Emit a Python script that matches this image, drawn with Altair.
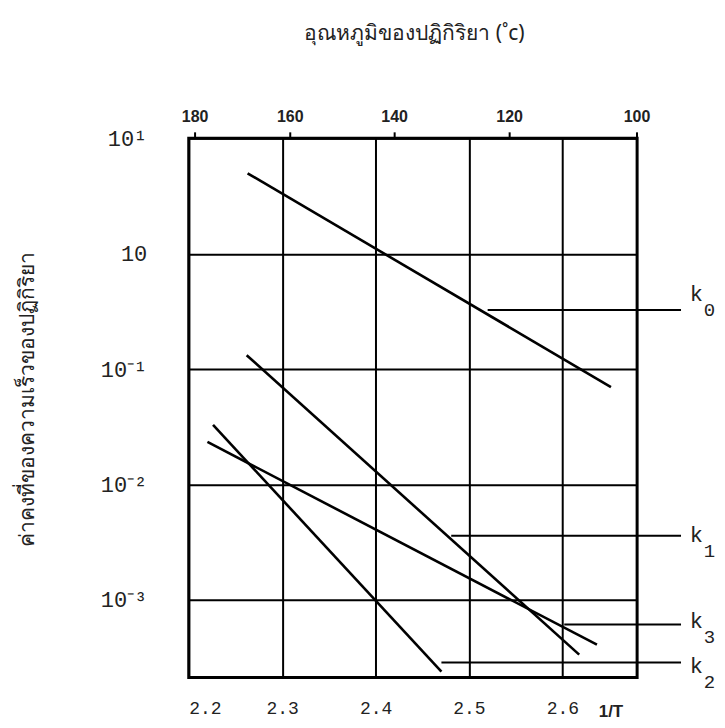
import altair as alt
import pandas as pd

# ---- data ----
series = ["k0", "k0", "k1", "k1", "k2", "k2", "k3", "k3"]
inv_t = [2.263, 2.652, 2.262, 2.618, 2.226, 2.4705, 2.220, 2.637]          # 1/T (x10^-3)
log_k = [0.697, -1.156, -0.88, -3.476, -1.485, -3.623, -1.632, -3.390]      # log10 k

label_names = ["k", "k", "k", "k"]
label_subs = ["0", "1", "3", "2"]
leader_start = [2.520, 2.481, 2.602, 2.4705]
leader_end = [2.727, 2.727, 2.727, 2.727]
leader_logk = [-0.489, -2.446, -3.216, -3.545]
label_x = [2.7435, 2.7435, 2.7435, 2.7435]
label_logk = [-0.351, -2.437, -3.182, -3.571]

temps_c = [180, 160, 140, 120, 100]
x_ticks = [2.2, 2.3, 2.4, 2.5, 2.6]
y_ticks = [1e-3, 1e-2, 1e-1, 1.0, 10.0]

lines_df = pd.DataFrame({"s": series, "x": inv_t, "k": [10 ** v for v in log_k]})
lead_df = pd.DataFrame({"x": leader_start, "x2": leader_end,
                        "k": [10 ** v for v in leader_logk]})
lab_df = pd.DataFrame({"t": label_names, "sub": label_subs, "x": label_x,
                       "k": [10 ** v for v in label_logk]})
top_df = pd.DataFrame({"T": [str(t) for t in temps_c],
                       "x": [1000.0 / (t + 273.15) for t in temps_c]})

xs = alt.Scale(domain=[2.2, 2.68], nice=False, zero=False)
ys = alt.Scale(type="log", domain=[10 ** -3.675, 10], nice=False)

mono = "Liberation Mono"

y_label_expr = ("datum.value >= 5 ? '10\u00b9' : datum.value >= 0.5 ? '10' : "
                "datum.value >= 0.05 ? '10\u207b\u00b9' : datum.value >= 0.005 ? "
                "'10\u207b\u00b2' : '10\u207b\u00b3'")

X = alt.X("x:Q", scale=xs, axis=alt.Axis(
    values=x_ticks, format=".1f", grid=True, gridColor="black", gridWidth=2,
    gridOpacity=1, domain=False, ticks=False, labelPadding=22,
    labelFont=mono, labelFontSize=18, labelColor="#222", title=None))
Y = alt.Y("k:Q", scale=ys, axis=alt.Axis(
    values=y_ticks, labelExpr=y_label_expr, grid=True, gridColor="black",
    gridWidth=2, gridOpacity=1, domain=False, ticks=False, labelPadding=42,
    labelFont=mono, labelFontSize=22, labelColor="#222", title=None))

lines = alt.Chart(lines_df).mark_line(color="black", strokeWidth=2.6).encode(
    detail="s:N",
)

leaders = alt.Chart(lead_df).mark_rule(color="black", strokeWidth=2).encode(
    x2="x2:Q",
)

klab = alt.Chart(lab_df).mark_text(font=mono, fontSize=22, color="#222",
                                   align="center", baseline="middle").encode(
    text="t:N",
)
ksub = alt.Chart(lab_df).mark_text(font=mono, fontSize=19, color="#222",
                                   align="center", baseline="middle",
                                   dx=13, dy=16).encode(
    text="sub:N",
)

top_ticks = alt.Chart(top_df).mark_rule(color="black", strokeWidth=2).encode(
    y=alt.value(-6), y2=alt.value(0),
)
top_labels = alt.Chart(top_df).mark_text(font="Liberation Sans", fontWeight="bold",
                                         fontSize=16, color="#222",
                                         baseline="middle", align="center").encode(
    y=alt.value(-21),
    text="T:N",
)

inv_label = alt.Chart(pd.DataFrame({"x": [2.652], "t": ["1/T"]})).mark_text(
    font="Liberation Sans", fontWeight="bold", fontSize=17, color="#222",
    baseline="middle", align="center").encode(
    y=alt.value(574), text="t:N")

top_title = alt.Chart(pd.DataFrame({"t": ["อุณหภูมิของปฏิกิริยา  (\u02dac)"]})).mark_text(
    font="Noto Sans", fontSize=21, color="#222", baseline="middle", align="center").encode(
    x=alt.value(226), y=alt.value(-104), text="t:N")

y_title = alt.Chart(pd.DataFrame({"t": ["ค่าคงที่ของความเร็วของปฏิกิริยา"]})).mark_text(
    font="Noto Sans", fontSize=21, color="#222", baseline="middle", align="center",
    angle=270).encode(
    x=alt.value(-161), y=alt.value(262), text="t:N")

chart = alt.layer(
    lines, leaders, klab, ksub, top_ticks, top_labels, inv_label, top_title, y_title
).encode(
    x=X, y=Y,
).properties(
    width=449, height=540,
    padding={"left": 181, "top": 130, "right": 80, "bottom": 50},
    autosize=alt.AutoSizeParams(type="none"),
).configure(
    background="white",
).configure_view(
    stroke="black", strokeWidth=3,
)

chart.save("out.html", embed_options={"renderer": "svg", "actions": False})
